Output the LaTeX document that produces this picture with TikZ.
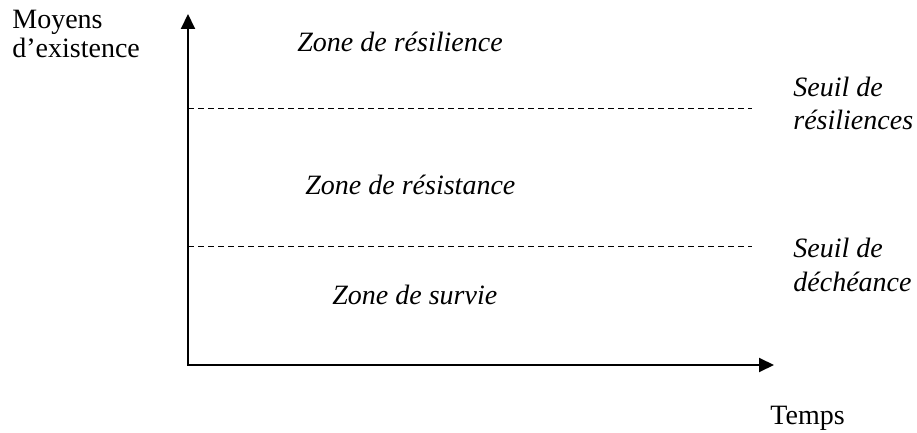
\documentclass[tikz,border=0pt]{standalone}
\usepackage{fontspec}
\setmainfont{Liberation Serif}
\usetikzlibrary{arrows.meta}
\usetikzlibrary{positioning}

\begin{document}
\begin{tikzpicture}[x=0.5pt, y=-0.5pt,
    every node/.style={inner sep=0pt, font=\fontsize{14}{16.5}\selectfont},
    legende/.style={anchor=base west},
    zone/.style={anchor=base west, font=\fontsize{14}{16.5}\selectfont\itshape},
    seuil/.style={line width=0.5pt, dash pattern=on 3pt off 2pt},
    axe/.style={line width=1pt, {Triangle[length=7.5pt, width=7pt]}-{Triangle[length=7.5pt, width=7pt]}}]

      \useasboundingbox (0,0) rectangle (917,433);

      % axes
      \coordinate (o) at (188,365);
      \coordinate (ytop) at (188,14);
      \coordinate (xend) at (774,365);
      \draw [axe] (ytop) -- (o) -- (xend);

      % seuils
      \coordinate (s1a) at (188,109);
      \coordinate (s1b) at (752,109);
      \coordinate (s2a) at (188,247);
      \coordinate (s2b) at (752,247);
      \draw [seuil] (s1a) -- (s1b);
      \draw [seuil] (s2a) -- (s2b);

      \node [legende] (moyens) at (12,29) {Moyens};
      \node [legende] (existence) at (12,58) {d’existence};
      \node [legende] (temps) at (770,424) {Temps};

      \node [zone] (resilience) at (297,52) {Zone de résilience};
      \node [zone] (resistance) at (305,195) {Zone de résistance};
      \node [zone] (survie) at (332,305) {Zone de survie};

      \node [zone] (seuilR1) at (793,97) {Seuil de};
      \node [zone] (seuilR2) at (793,130) {résiliences};
      \node [zone] (seuilD1) at (793,257) {Seuil de};
      \node [zone] (seuilD2) at (793,292) {déchéance};

    \end{tikzpicture}
\end{document}
